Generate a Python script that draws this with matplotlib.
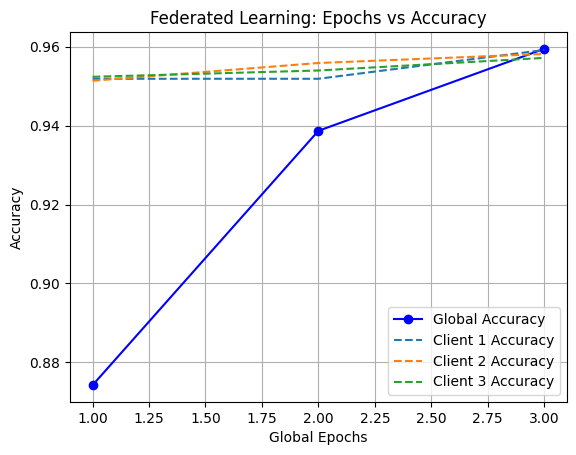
import matplotlib
matplotlib.use("Agg")
import matplotlib.pyplot as plt

epochs = [1, 2, 3]
global_acc = [0.8742, 0.9387, 0.9595]
client1_acc = [0.9519, 0.9519, 0.9592]
client2_acc = [0.9514, 0.9559, 0.9582]
client3_acc = [0.9524, 0.9540, 0.9572]

fig = plt.figure(figsize=(5.76, 4.55), dpi=100)
plt.subplots_adjust(left=0.1215, right=0.984, top=0.9297, bottom=0.1165)

plt.plot(epochs, global_acc, marker='o', color='blue', label='Global Accuracy')
plt.plot(epochs, client1_acc, linestyle='--', label='Client 1 Accuracy')
plt.plot(epochs, client2_acc, linestyle='--', label='Client 2 Accuracy')
plt.plot(epochs, client3_acc, linestyle='--', label='Client 3 Accuracy')

plt.title("Federated Learning: Epochs vs Accuracy")
plt.xlabel("Global Epochs")
plt.ylabel("Accuracy")
plt.legend(loc='lower right')
plt.grid()
plt.savefig("out.png")
